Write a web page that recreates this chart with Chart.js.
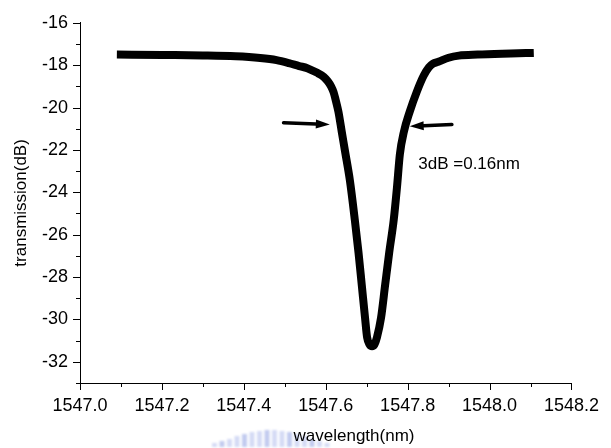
<!DOCTYPE html>
<html>
<head>
<meta charset="utf-8">
<script src="https://cdn.jsdelivr.net/npm/chart.js@4.4.1/dist/chart.umd.min.js"></script>
<style>
  html, body { margin: 0; padding: 0; background: #ffffff; }
  #wrap { width: 611px; height: 448px; position: relative; }
</style>
</head>
<body>
<div id="wrap"><canvas id="chart"></canvas></div>
<script>
// Transmission spectrum of the notch filter (wavelength in nm, transmission in dB)
const wavelength = [
  1547.09, 1547.20, 1547.30, 1547.38, 1547.44, 1547.48, 1547.51, 1547.535,
  1547.555, 1547.578, 1547.595, 1547.605, 1547.613, 1547.619, 1547.625, 1547.631,
  1547.639, 1547.647, 1547.659, 1547.671, 1547.680, 1547.688, 1547.696, 1547.701,
  1547.707, 1547.713, 1547.719, 1547.725, 1547.735, 1547.745, 1547.755, 1547.766,
  1547.774, 1547.781, 1547.791, 1547.805, 1547.822, 1547.839, 1547.852, 1547.862,
  1547.875, 1547.900, 1547.925, 1547.971, 1548.052, 1548.108
];
const transmission = [
  -17.50, -17.52, -17.54, -17.58, -17.66, -17.76, -17.90, -18.04,
  -18.14, -18.35, -18.55, -18.76, -19.00, -19.27, -19.70, -20.20,
  -21.13, -22.05, -23.44, -25.30, -26.84, -28.38, -29.93, -30.85,
  -31.18, -31.26, -31.18, -30.85, -29.93, -28.38, -26.84, -25.30,
  -23.75, -22.21, -21.13, -20.20, -19.27, -18.50, -18.10, -17.93,
  -17.84, -17.65, -17.55, -17.50, -17.45, -17.42
];

// Axis ranges and labelled tick steps
const xRange = [1547.0, 1548.2];
const yRange = [-33, -16];
const xMinorStep = 0.1, xLabelEvery = 2;   // label every 0.2 nm
const yMinorStep = 1,   yLabelEvery = 2;   // label every 2 dB

// 3 dB bandwidth markers: arrows [tailX, tailY, tipX, tipY] and label
const bandwidthArrows = [
  [1547.497, -20.72, 1547.610, -20.80],
  [1547.908, -20.80, 1547.805, -20.88]
];
const bandwidthLabel = { text: '3dB =0.16nm', x: 1547.826, y: -22.67 };

const axisTitleX = 'wavelength(nm)';
const axisTitleY = 'transmission(dB)';

const FONT = "'Liberation Sans', Arial, Helvetica, sans-serif";

const points = wavelength.map((w, i) => ({ x: w, y: transmission[i] }));

function isLabelled(v, step, every) {
  const k = Math.round(v / step);
  return Math.abs(v / step - k) < 1e-6 && k % every === 0;
}

// Faint blue seal printed under the x-axis title
const seal = {
  id: 'seal',
  beforeDraw(chart) {
    const { ctx } = chart;
    ctx.save();
    ctx.filter = 'blur(1.2px)';
    const heights = [4, 6, 8, 11, 13, 15, 16, 17, 17, 16, 15, 13, 11, 8, 6, 4];
    heights.forEach((h, i) => {
      ctx.fillStyle = i % 3 === 1 ? 'rgba(120,140,220,0.45)' : 'rgba(150,165,230,0.4)';
      ctx.fillRect(212 + i * 7.5, 447 - h, 5, h);
    });
    ctx.restore();
  }
};

// Outward tick marks: long for labelled ticks, short for the rest
const tickMarks = {
  id: 'tickMarks',
  afterDraw(chart) {
    const { ctx, chartArea } = chart;
    const xs = chart.scales.x, ys = chart.scales.y;
    ctx.save();
    ctx.strokeStyle = '#000';
    ctx.lineWidth = 1;
    ctx.beginPath();
    xs.ticks.forEach(t => {
      const px = Math.round(xs.getPixelForValue(t.value)) + 0.5;
      const len = isLabelled(t.value, xMinorStep, xLabelEvery) ? 7 : 4;
      ctx.moveTo(px, chartArea.bottom);
      ctx.lineTo(px, chartArea.bottom + len);
    });
    ys.ticks.forEach(t => {
      const py = Math.round(ys.getPixelForValue(t.value)) + 0.5;
      const len = isLabelled(t.value, yMinorStep, yLabelEvery) ? 7 : 4;
      ctx.moveTo(chartArea.left, py);
      ctx.lineTo(chartArea.left - len, py);
    });
    ctx.stroke();
    ctx.restore();
  }
};

// Arrows, bandwidth label and x-axis title
const annotations = {
  id: 'annotations',
  afterDatasetsDraw(chart) {
    const { ctx } = chart;
    const xs = chart.scales.x, ys = chart.scales.y;
    ctx.save();
    ctx.fillStyle = '#000';
    ctx.strokeStyle = '#000';
    bandwidthArrows.forEach(([x0, y0, x1, y1]) => {
      const ax = xs.getPixelForValue(x0), ay = ys.getPixelForValue(y0);
      const bx = xs.getPixelForValue(x1), by = ys.getPixelForValue(y1);
      const ang = Math.atan2(by - ay, bx - ax);
      const headLen = 14, headHalf = 4.5;
      const hx = bx - headLen * Math.cos(ang), hy = by - headLen * Math.sin(ang);
      ctx.lineWidth = 3.5;
      ctx.lineCap = 'round';
      ctx.beginPath();
      ctx.moveTo(ax, ay);
      ctx.lineTo(hx, hy);
      ctx.stroke();
      ctx.beginPath();
      ctx.moveTo(bx, by);
      ctx.lineTo(hx + headHalf * Math.sin(ang), hy - headHalf * Math.cos(ang));
      ctx.lineTo(hx - headHalf * Math.sin(ang), hy + headHalf * Math.cos(ang));
      ctx.closePath();
      ctx.fill();
    });
    ctx.font = '17px ' + FONT;
    ctx.textAlign = 'left';
    ctx.textBaseline = 'middle';
    ctx.fillText(bandwidthLabel.text,
      xs.getPixelForValue(bandwidthLabel.x), ys.getPixelForValue(bandwidthLabel.y));

    ctx.font = '17px ' + FONT;
    ctx.textAlign = 'center';
    ctx.fillText(axisTitleX, 354, 436);
    ctx.restore();
  }
};

new Chart(document.getElementById('chart'), {
  type: 'scatter',
  data: {
    datasets: [{
      data: points,
      showLine: true,
      borderColor: '#000',
      backgroundColor: '#000',
      borderWidth: 8,
      borderCapStyle: 'butt',
      borderJoinStyle: 'round',
      cubicInterpolationMode: 'monotone',
      pointRadius: 0,
      pointHoverRadius: 0
    }]
  },
  options: {
    responsive: true,
    maintainAspectRatio: false,
    animation: false,
    events: [],
    layout: { padding: { top: 16, right: 33, left: 0, bottom: 0 } },
    plugins: { legend: { display: false }, tooltip: { enabled: false } },
    scales: {
      x: {
        type: 'linear',
        min: xRange[0], max: xRange[1],
        afterFit(scale) { scale.height = 65; },
        border: { display: true, color: '#000', width: 1 },
        grid: { display: false, drawTicks: false },
        ticks: {
          stepSize: xMinorStep,
          autoSkip: false,
          maxRotation: 0,
          padding: 12,
          color: '#000',
          font: { family: FONT, size: 18 },
          callback: v => isLabelled(v, xMinorStep, xLabelEvery) ? Number(v).toFixed(1) : ''
        }
      },
      y: {
        type: 'linear',
        min: yRange[0], max: yRange[1],
        afterFit(scale) { scale.width = 80; },
        border: { display: true, color: '#000', width: 1 },
        grid: { display: false, drawTicks: false },
        title: {
          display: true, text: axisTitleY, color: '#000',
          font: { family: FONT, size: 17 },
          padding: { top: 11, bottom: 0 }
        },
        ticks: {
          stepSize: yMinorStep,
          autoSkip: false,
          padding: 12,
          color: '#000',
          font: { family: FONT, size: 18 },
          callback: v => isLabelled(v, yMinorStep, yLabelEvery) ? String(Math.round(v)) : ''
        }
      }
    }
  },
  plugins: [seal, tickMarks, annotations]
});
</script>
</body>
</html>
